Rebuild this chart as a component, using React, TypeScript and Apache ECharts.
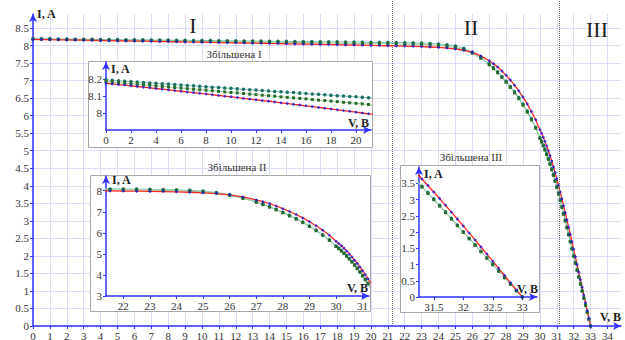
import React, { useEffect, useRef } from "react";
import * as echarts from "echarts";

// ---- data ----
const voltage = [
  0, 0.5, 1, 1.5, 2, 2.5, 3, 3.5, 4, 4.5,
  5, 5.5, 6, 6.5, 7, 7.5, 8, 8.5, 9, 9.5,
  10, 10.5, 11, 11.5, 12, 12.5, 13, 13.5, 14, 14.5,
  15, 15.5, 16, 16.5, 17, 17.5, 18, 18.5, 19, 19.5,
  20, 20.5, 21, 21.5, 22, 22.5, 23, 23.5, 24, 24.5,
  25, 25.5, 26, 26.5,
  27, 27.25, 27.5, 27.75, 28, 28.25, 28.5, 28.75, 29, 29.25, 29.5, 29.75,
  30, 30.1, 30.2, 30.3, 30.4, 30.5, 30.6, 30.7, 30.8, 30.9,
  31, 31.1, 31.2, 31.3, 31.4, 31.5, 31.6, 31.7, 31.8, 31.9,
  32, 32.1, 32.2, 32.3, 32.4, 32.5, 32.6, 32.7, 32.8, 32.9,
  33,
];

const currentModel = [
  8.175, 8.171, 8.167, 8.164, 8.16, 8.156, 8.152, 8.148, 8.144, 8.14,
  8.136, 8.132, 8.128, 8.124, 8.12, 8.116, 8.112, 8.108, 8.103, 8.099,
  8.095, 8.091, 8.086, 8.082, 8.078, 8.073, 8.069, 8.065, 8.06, 8.056,
  8.051, 8.047, 8.042, 8.038, 8.033, 8.028, 8.024, 8.019, 8.014, 8.01,
  8.005, 8.0, 7.995, 7.99, 7.984, 7.977, 7.969, 7.959, 7.946, 7.928,
  7.903, 7.866, 7.805, 7.705,
  7.565, 7.48, 7.385, 7.275, 7.15, 7.015, 6.87, 6.71, 6.53, 6.335, 6.12, 5.885,
  5.6, 5.496, 5.384, 5.264, 5.136, 5.0, 4.856, 4.704, 4.544, 4.376,
  4.2, 4.014, 3.824, 3.63, 3.432, 3.231, 3.027, 2.82, 2.611, 2.4,
  2.187, 1.972, 1.756, 1.539, 1.321, 1.102, 0.882, 0.661, 0.44, 0.219,
  0,
];

const currentTeal = [
  8.195, 8.192, 8.19, 8.187, 8.185, 8.182, 8.18, 8.177, 8.175, 8.172,
  8.17, 8.167, 8.165, 8.162, 8.16, 8.157, 8.155, 8.152, 8.15, 8.147,
  8.145, 8.142, 8.14, 8.137, 8.135, 8.132, 8.13, 8.127, 8.125, 8.122,
  8.12, 8.117, 8.115, 8.112, 8.11, 8.107, 8.105, 8.102, 8.1, 8.097,
  8.095, 8.092, 8.09, 8.087, 8.083, 8.078, 8.071, 8.061, 8.046, 8.022,
  7.985, 7.92, 7.815, 7.665,
  7.48, 7.37, 7.25, 7.12, 6.98, 6.835, 6.68, 6.515, 6.33, 6.13, 5.91, 5.67,
  5.38, 5.276, 5.164, 5.044, 4.916, 4.78, 4.636, 4.484, 4.324, 4.156,
  3.98, 3.794, 3.604, 3.41, 3.216, 3.021, 2.822, 2.622, 2.42, 2.216,
  2.01, 1.808, 1.605, 1.405, 1.205, 1.004, 0.802, 0.6, 0.398, 0.195,
  0,
];

const currentGreen = [
  8.185, 8.182, 8.179, 8.175, 8.172, 8.169, 8.166, 8.163, 8.159, 8.156,
  8.153, 8.15, 8.147, 8.143, 8.14, 8.137, 8.134, 8.131, 8.127, 8.124,
  8.121, 8.118, 8.115, 8.111, 8.108, 8.105, 8.102, 8.099, 8.095, 8.092,
  8.089, 8.086, 8.083, 8.079, 8.076, 8.073, 8.07, 8.067, 8.063, 8.06,
  8.057, 8.054, 8.05, 8.046, 8.042, 8.036, 8.028, 8.017, 8.002, 7.979,
  7.944, 7.882, 7.78, 7.635,
  7.45, 7.34, 7.22, 7.09, 6.95, 6.805, 6.65, 6.485, 6.3, 6.1, 5.88, 5.64,
  5.35, 5.246, 5.134, 5.014, 4.886, 4.75, 4.606, 4.454, 4.294, 4.126,
  3.95, 3.764, 3.574, 3.38, 3.186, 2.991, 2.795, 2.596, 2.395, 2.192,
  1.987, 1.787, 1.586, 1.389, 1.191, 0.992, 0.792, 0.591, 0.39, 0.189,
  0,
];

const regionBounds = [21.25, 31.15];
const regionNames = ["I", "II", "III"];
const insetTitles = ["Збільшена I", "Збільшена II", "Збільшена III"];

// tick labels
const mainXTicks = [0, 1, 2, 3, 4, 5, 6, 7, 8, 9, 10, 11, 12, 13, 14, 15, 16, 17, 18, 19, 20, 21, 22, 23, 24, 25, 26, 27, 28, 29, 30, 31, 32, 33, 34];
const mainYTicks = [0, 0.5, 1, 1.5, 2, 2.5, 3, 3.5, 4, 4.5, 5, 5.5, 6, 6.5, 7, 7.5, 8, 8.5];
const inset1XTicks = [0, 2, 4, 6, 8, 10, 12, 14, 16, 18, 20];
const inset1YTicks = [8, 8.1, 8.2];
const inset2XTicks = [22, 23, 24, 25, 26, 27, 28, 29, 30, 31];
const inset2YTicks = [3, 4, 5, 6, 7, 8];
const inset3XTicks = [31.5, 32, 32.5, 33];
const inset3YTicks = [0, 0.5, 1, 1.5, 2, 2.5, 3, 3.5];

const FONT = "'Liberation Serif', 'DejaVu Serif', serif";
const AXIS_BLUE = "#3232ff";
const GRID_COLOR = "#dcdcf5";
const LABEL_COLOR = "#333";

const pairs = (ys: number[]) => voltage.map((v, i) => [v, ys[i]]);

const onlyIn = (list: number[]) => (v: number) =>
  list.some((t) => Math.abs(t - v) < 1e-6) ? String(+v.toFixed(2)) : "";

function makeAxis(
  gridIndex: number,
  min: number,
  max: number,
  ticks: number[],
  z: number,
  split: boolean,
  interval?: number
) {
  const ax: any = {
    type: "value",
    gridIndex,
    min,
    max,
    z,
    axisLine: {
      show: true,
      onZero: false,
      lineStyle: { color: AXIS_BLUE, width: 1.5 },
      symbol: ["none", "arrow"],
      symbolSize: [6, 8],
    },
    axisTick: {
      show: true,
      length: 3,
      customValues: ticks,
      lineStyle: { color: AXIS_BLUE, width: 1 },
    },
    axisLabel: {
      customValues: ticks,
      color: LABEL_COLOR,
      fontFamily: FONT,
      fontSize: 11,
      margin: 4,
      formatter: onlyIn(ticks),
    },
    splitLine: split
      ? { show: true, lineStyle: { color: GRID_COLOR, width: 1 } }
      : { show: false },
  };
  if (interval !== undefined) ax.interval = interval;
  return ax;
}

function hiddenAxis(gridIndex: number, min: number, max: number) {
  return {
    type: "value",
    gridIndex,
    min,
    max,
    show: false,
    axisLine: { show: false },
    axisTick: { show: false },
    axisLabel: { show: false },
    splitLine: { show: false },
  };
}

function makeSeries(idx: number, z: number) {
  const base = { xAxisIndex: idx, yAxisIndex: idx, z, clip: true, silent: true };
  return [
    {
      ...base,
      type: "line",
      data: pairs(currentTeal),
      symbol: "circle",
      symbolSize: 3.5,
      showSymbol: true,
      lineStyle: { color: "#86c8bc", width: 1 },
      itemStyle: { color: "#1d6e63" },
    },
    {
      ...base,
      type: "line",
      data: pairs(currentGreen),
      symbol: "rect",
      symbolSize: 3,
      showSymbol: true,
      lineStyle: { color: "#98c898", width: 1 },
      itemStyle: { color: "#2a6a2a" },
    },
    {
      ...base,
      type: "line",
      data: pairs(currentModel),
      showSymbol: false,
      lineStyle: { color: "#ff2424", width: 1.3 },
    },
    {
      ...base,
      type: "scatter",
      data: pairs(currentModel),
      symbol: "diamond",
      symbolSize: 3.5,
      itemStyle: { color: "#1818d8" },
    },
  ];
}

const text = (t: string, x: number, y: number, size: number, opts: any = {}) => ({
  type: "text",
  z: 8,
  silent: true,
  style: {
    text: t,
    x,
    y,
    font: `${opts.bold ? "bold " : ""}${size}px ${FONT}`,
    fill: opts.fill || "#222",
    align: opts.align || "center",
    verticalAlign: "middle",
  },
});

const box = (x: number, y: number, w: number, h: number) => ({
  type: "rect",
  z: 5,
  silent: true,
  shape: { x: x + 0.5, y: y + 0.5, width: w, height: h },
  style: { fill: "#ffffff", stroke: "#a8a8a8", lineWidth: 1 },
});

export default function App() {
  const ref = useRef<HTMLDivElement>(null);
  useEffect(() => {
    document.body.style.margin = "0";
    if (!ref.current) return;
    const chart = echarts.init(ref.current, undefined, { renderer: "svg" });
    const gridBase = { containLabel: false, outerBoundsMode: "none" };
    const option: any = {
      animation: false,
      backgroundColor: "#ffffff",
      grid: [
        { ...gridBase, left: 33, top: 14, width: 588, height: 312 },
        { ...gridBase, left: 106, top: 62, width: 265, height: 68 },
        { ...gridBase, left: 106, top: 176, width: 263, height: 120 },
        { ...gridBase, left: 419, top: 167, width: 118, height: 130 },
        { ...gridBase, left: 33, top: 0, width: 588, height: 326 },
      ],
      xAxis: [
        makeAxis(0, 0, 34.8, mainXTicks, 0, true, 1),
        makeAxis(1, 0, 21.2, inset1XTicks, 6, false, 2),
        makeAxis(2, 21.35, 31.24, inset2XTicks, 6, false),
        makeAxis(3, 31.25, 33.25, inset3XTicks, 6, false),
        hiddenAxis(4, 0, 34.8),
      ],
      yAxis: [
        makeAxis(0, 0, 8.9, mainYTicks, 0, true, 0.5),
        makeAxis(1, 7.9, 8.3, inset1YTicks, 6, false),
        makeAxis(2, 3, 8.7, inset2YTicks, 6, false),
        makeAxis(3, 0, 4, inset3YTicks, 6, false),
        hiddenAxis(4, 0, 1),
      ],
      series: [
        {
          type: "line",
          xAxisIndex: 4,
          yAxisIndex: 4,
          data: [],
          silent: true,
          z: 1,
          markLine: {
            silent: true,
            symbol: ["none", "none"],
            label: { show: false },
            lineStyle: { type: "dotted", color: "#666", width: 1 },
            data: regionBounds.map((x) => ({ xAxis: x })),
          },
        },
        ...makeSeries(0, 2),
        ...makeSeries(1, 7),
        ...makeSeries(2, 7),
        ...makeSeries(3, 7),
      ],
      graphic: [
        box(88, 61, 284, 86),
        box(90, 175, 280, 136),
        box(400, 165, 139, 147),
        text(insetTitles[0], 234, 54, 11, { fill: LABEL_COLOR }),
        text(insetTitles[1], 237, 167, 11, { fill: LABEL_COLOR }),
        text(insetTitles[2], 471, 157, 11, { fill: LABEL_COLOR }),
        text(regionNames[0], 193, 25, 22),
        text(regionNames[1], 471, 27, 22),
        text(regionNames[2], 597, 29, 22),
        text("I, A", 37, 14, 12, { bold: true, align: "left" }),
        text("V, B", 621, 317, 12, { bold: true, align: "right" }),
        text("I, A", 111, 69, 12, { bold: true, align: "left" }),
        text("V, B", 369, 123, 12, { bold: true, align: "right" }),
        text("I, A", 112, 180, 12, { bold: true, align: "left" }),
        text("V, B", 368, 288, 12, { bold: true, align: "right" }),
        text("I, A", 424, 174, 12, { bold: true, align: "left" }),
        text("V, B", 538, 289, 12, { bold: true, align: "right" }),
      ],
    };
    chart.setOption(option);
    return () => chart.dispose();
  }, []);
  return <div ref={ref} style={{ width: 625, height: 340 }} />;
}
